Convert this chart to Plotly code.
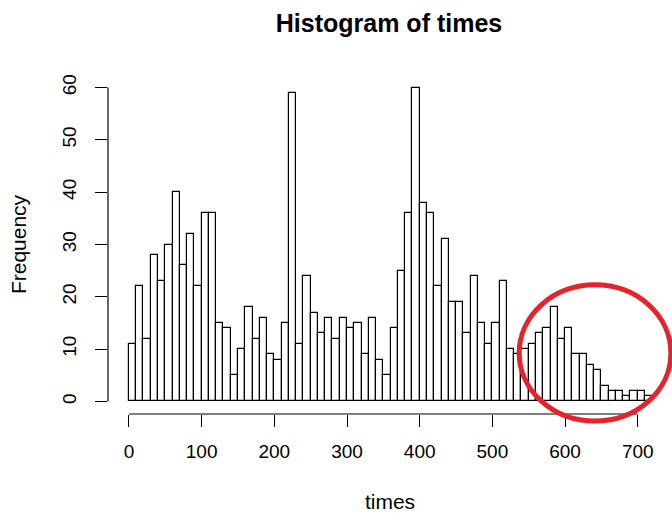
import plotly.graph_objects as go

bin_width = 10
bin_starts = list(range(0, 720, 10))
counts = [11, 22, 12, 28, 23, 30, 40, 26, 32, 22,
          36, 36, 15, 14, 5, 10, 18, 12, 16, 9,
          8, 15, 59, 11, 24, 17, 13, 16, 12, 16,
          14, 15, 9, 16, 8, 5, 14, 25, 36, 60,
          38, 36, 22, 31, 19, 19, 13, 24, 15, 11,
          15, 23, 10, 9, 10, 11, 13, 14, 18, 12,
          14, 9, 9, 7, 6, 3, 2, 2, 1, 2,
          2, 1]
x_ticks = [0, 100, 200, 300, 400, 500, 600, 700]
y_ticks = [0, 10, 20, 30, 40, 50, 60]

centers = [s + bin_width / 2 for s in bin_starts]

FONT = "Liberation Sans, Arial, sans-serif"

fig = go.Figure(go.Bar(
    x=centers, y=counts, width=[bin_width] * len(counts),
    marker=dict(color="white", line=dict(color="black", width=1.2)),
    showlegend=False, hoverinfo="skip",
))

fig.update_layout(
    width=672, height=513,
    margin=dict(l=108, r=0, t=75, b=99),
    paper_bgcolor="white", plot_bgcolor="white",
    title=dict(text="<b>Histogram of times</b>", x=389 / 672, xanchor="center",
               y=1 - 23 / 513, yanchor="middle",
               font=dict(family=FONT, size=25, color="black")),
    bargap=0,
    xaxis=dict(range=[-28.8, 747.1], tickvals=x_ticks, ticks="outside", ticklen=12,
               tickwidth=1, tickcolor="black", showgrid=False, zeroline=False,
               showline=False, ticklabelstandoff=8,
               tickfont=dict(family=FONT, size=19, color="black"),
               title=dict(text="times", standoff=34,
                          font=dict(family=FONT, size=21, color="black"))),
    yaxis=dict(range=[-2.4, 62.4], tickvals=y_ticks, ticks="outside", ticklen=12,
               tickwidth=1, tickcolor="black", showgrid=False, zeroline=False,
               showline=False, tickangle=-90, ticklabelstandoff=11,
               tickfont=dict(family=FONT, size=19, color="black"),
               title=dict(text="Frequency", standoff=27,
                          font=dict(family=FONT, size=21, color="black"))),
    shapes=[
        dict(type="line", xref="x domain", yref="y", x0=0, x1=0, y0=0, y1=60,
             line=dict(color="black", width=1.2)),
        dict(type="line", xref="x", yref="y domain", x0=0, x1=700, y0=0, y1=0,
             line=dict(color="black", width=1.2)),
        dict(type="circle", xref="paper", yref="paper", x0=0.729, x1=0.998,
             y0=-0.021, y1=0.381, line=dict(color="#E8222A", width=5)),
    ],
)

fig.write_html("out.html")
